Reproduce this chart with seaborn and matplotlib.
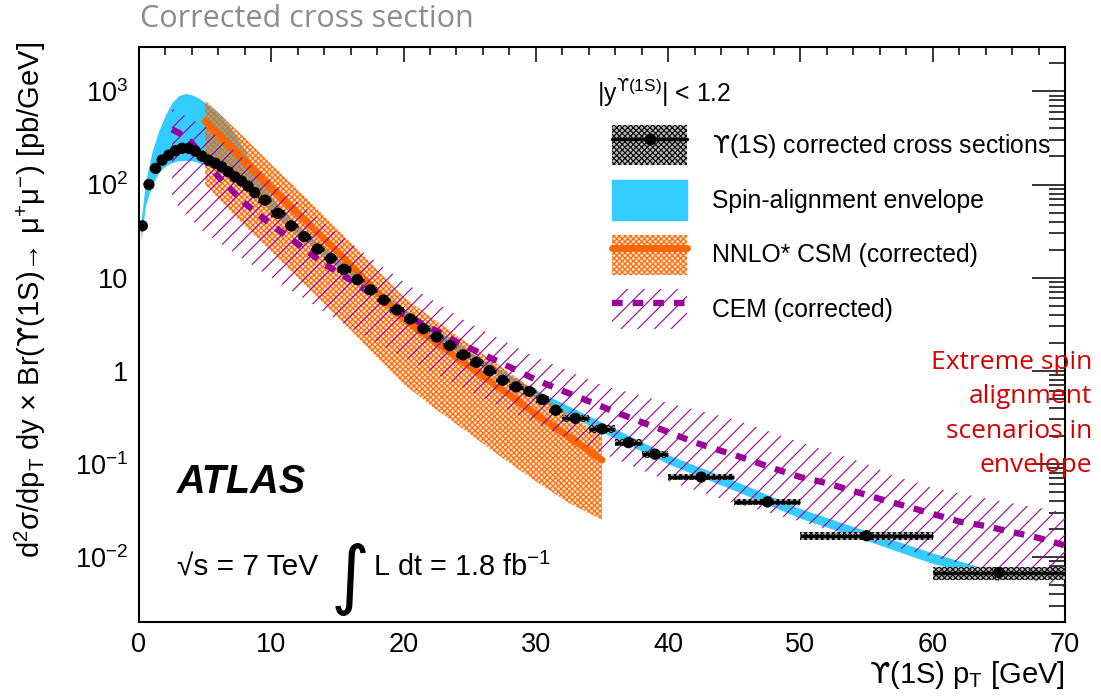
import numpy as np
import pandas as pd
import matplotlib
matplotlib.use("Agg")
import matplotlib.pyplot as plt
import seaborn as sns
from matplotlib.ticker import FixedLocator, MultipleLocator, FuncFormatter, NullFormatter, LogLocator
from matplotlib.patches import Patch
from matplotlib.lines import Line2D
from matplotlib.legend_handler import HandlerTuple

# ---------------- data ----------------
bin_lo = [0.0, 0.5, 1.0, 1.5, 2.0, 2.5, 3.0, 3.5, 4.0, 4.5, 5.0, 5.5, 6.0, 6.5, 7.0, 7.5,
          8.0, 8.5, 9.0, 10, 11, 12, 13, 14, 15, 16, 17, 18, 19, 20, 21, 22, 23, 24, 25,
          26, 27, 28, 29, 30, 31, 32, 34, 36, 38, 40, 45, 50, 60]
bin_hi = [0.5, 1.0, 1.5, 2.0, 2.5, 3.0, 3.5, 4.0, 4.5, 5.0, 5.5, 6.0, 6.5, 7.0, 7.5, 8.0,
          8.5, 9.0, 10, 11, 12, 13, 14, 15, 16, 17, 18, 19, 20, 21, 22, 23, 24, 25, 26,
          27, 28, 29, 30, 31, 32, 34, 36, 38, 40, 45, 50, 60, 70]
xsec = [36, 100, 149, 183, 207, 231, 245, 245, 229, 202, 183, 170, 155, 137, 121, 109,
        96, 82, 68, 49, 36, 27.5, 20.3, 16.1, 12.3, 9.5, 7.4, 5.75, 4.5, 3.6, 2.83,
        2.3, 1.86, 1.48, 1.23, 1.0, 0.79, 0.67, 0.60, 0.49, 0.376, 0.308, 0.237,
        0.169, 0.127, 0.072, 0.039, 0.0169, 0.0068]
sys_rel = [0.08] * 41 + [0.09, 0.09, 0.09, 0.09, 0.07, 0.08, 0.09, 0.16]

env_pt = [0.15, 0.5, 1.0, 1.5, 2.0, 2.5, 3.0, 3.5, 4.0, 4.5, 5.0, 5.5, 6.0, 7.0, 8.0,
          9.0, 10, 12, 14, 16, 18, 20, 25, 30, 35, 40, 45, 50, 55, 60, 65]
env_lo = [25, 60, 100, 135, 158, 172, 180, 182, 180, 172, 162, 150, 138, 112, 88,
          70, 50, 29, 17, 10, 6.2, 3.8, 1.3, 0.50, 0.22, 0.100, 0.052, 0.026, 0.0150,
          0.0085, 0.0055]
env_hi = [40, 110, 230, 380, 560, 760, 900, 950, 920, 850, 760, 670, 590, 400, 230,
          130, 75, 36, 21, 12.5, 7.6, 4.7, 1.6, 0.62, 0.28, 0.125, 0.066, 0.033, 0.0190,
          0.0110, 0.0068]

csm_pt = [5, 7.5, 10, 12.5, 15, 17.5, 20, 22.5, 25, 27.5, 30, 32.5, 35]
csm_val = [480, 210, 91, 42, 19, 8.3, 3.6, 2.0, 1.1, 0.62, 0.34, 0.195, 0.11]
csm_lo = [100, 42, 19, 8.5, 3.8, 1.65, 0.72, 0.38, 0.21, 0.115, 0.065, 0.038, 0.025]
csm_hi = [800, 370, 165, 75, 33, 14.5, 6.2, 3.4, 1.9, 1.07, 0.60, 0.34, 0.20]

cem_pt = [2.5, 3, 4, 6, 8, 10, 12, 14, 16, 18, 20, 22, 24, 26, 28, 30, 32, 34, 36, 38,
          40, 42, 44, 46, 48, 50, 52, 54, 56, 58, 60, 62, 64, 66, 68, 70]
cem_val = [390, 360, 280, 121, 63, 37, 23, 14, 9.4, 6.1, 4.05, 2.9, 2.05, 1.5, 1.1,
           0.80, 0.61, 0.47, 0.36, 0.28, 0.22, 0.17, 0.138, 0.112, 0.089, 0.072,
           0.062, 0.051, 0.042, 0.035, 0.029, 0.024, 0.0215, 0.0185, 0.016, 0.0133]
cemb_pt = [2.5, 5, 10, 15, 20, 25, 30, 35, 40, 45, 50, 55, 57, 60, 65, 70]
cem_lo = [68, 30, 10, 3.5, 1.4, 0.6, 0.27, 0.13, 0.065, 0.038, 0.024, 0.015, 0.013,
          0.010, 0.0068, 0.0047]
cem_hi = [650, 420, 110, 30, 9, 3.2, 1.4, 0.70, 0.45, 0.30, 0.17, 0.10, 0.075, 0.055,
          0.040, 0.030]

# ---------------- style ----------------
CYAN = "#33ccff"
ORANGE = "#ff6600"
ORANGE_FILL = (1.0, 0.4, 0.0, 0.22)
PURPLE = "#990099"
RED = "#d40000"

sns.set_theme(style="white")
plt.rcParams["font.family"] = ["Liberation Sans", "DejaVu Sans"]
plt.rcParams["text.color"] = "black"
plt.rcParams["axes.labelcolor"] = "black"
plt.rcParams["xtick.color"] = "black"
plt.rcParams["ytick.color"] = "black"
plt.rcParams["mathtext.fontset"] = "custom"
plt.rcParams["mathtext.rm"] = "Liberation Sans"
plt.rcParams["mathtext.it"] = "Liberation Sans:italic"
plt.rcParams["mathtext.bf"] = "Liberation Sans:bold"
plt.rcParams["mathtext.sf"] = "DejaVu Sans"
plt.rcParams["mathtext.fallback"] = "stixsans"
plt.rcParams["hatch.linewidth"] = 0.8

UPS = r"$\mathsf{ϒ}$"
FS = 17.8      # legend text
FT = 19.5      # tick labels
FA = 21.0      # axis titles

fig = plt.figure(figsize=(11.01, 6.97), dpi=100)
W, H = 1101, 697
L, R, T, B = 139, 1065, 47, 622
ax = fig.add_axes([L / W, 1 - B / H, (R - L) / W, (B - T) / H])
ax.set_facecolor("white")

# spin alignment envelope
ax.fill_between(env_pt, env_lo, env_hi, color=CYAN, lw=0, zorder=1)

# NNLO* CSM band + line
ax.fill_between(csm_pt, csm_lo, csm_hi, facecolor=ORANGE_FILL, edgecolor=ORANGE,
                hatch="xxxxxx", lw=0, zorder=2)
csm_df = pd.DataFrame({"pt": csm_pt, "val": csm_val})
sns.lineplot(data=csm_df, x="pt", y="val", color=ORANGE, lw=5, ax=ax, zorder=3)

# CEM band + dashed line
ax.fill_between(cemb_pt, cem_lo, cem_hi, facecolor="none", edgecolor=PURPLE,
                hatch="//", lw=0, zorder=4)
cem_df = pd.DataFrame({"pt": cem_pt, "val": cem_val})
sns.lineplot(data=cem_df, x="pt", y="val", color=PURPLE, lw=4.5, ax=ax, zorder=5)
ax.lines[-1].set_dashes((1.7, 1.6))

# data
lo = np.array(bin_lo); hi = np.array(bin_hi); y = np.array(xsec); sr = np.array(sys_rel)
ctr = 0.5 * (lo + hi)
ax.bar(ctr, 2 * y * sr, bottom=y * (1 - sr), width=hi - lo, facecolor="#bbbbbb",
       edgecolor="black", hatch="xxxxxx", lw=0, zorder=6)
ax.errorbar(ctr, y, xerr=0.5 * (hi - lo), fmt="none", ecolor="black", elinewidth=2.5,
            capsize=0, zorder=7)
data_df = pd.DataFrame({"pt": ctr, "xsec": y})
sns.scatterplot(data=data_df, x="pt", y="xsec", color="black", s=66, edgecolor="none",
                ax=ax, zorder=8)

# ---------------- axes ----------------
ax.set_yscale("log")
ax.set_xlim(0, 70)
ax.set_ylim(0.002, 3000)
ax.xaxis.set_major_locator(MultipleLocator(10))
ax.xaxis.set_minor_locator(MultipleLocator(2))
ax.yaxis.set_major_locator(FixedLocator([1e-2, 1e-1, 1, 10, 1e2, 1e3]))
ax.yaxis.set_minor_locator(LogLocator(base=10, subs=np.arange(2, 10), numticks=20))
ax.yaxis.set_minor_formatter(NullFormatter())
ylabels = {1e-2: "$10^{-2}$", 1e-1: "$10^{-1}$", 1.0: "1", 10.0: "10",
           1e2: "$10^{2}$", 1e3: "$10^{3}$"}
ax.yaxis.set_major_formatter(FuncFormatter(
    lambda v, p: min(ylabels.items(), key=lambda kv: abs(np.log10(kv[0]) - np.log10(v)))[1]))
ax.tick_params(which="both", direction="in", top=True, right=True, width=1.1,
               labelsize=FT, colors="black")
ax.tick_params(axis="x", which="major", length=10.8, pad=7)
ax.tick_params(axis="x", which="minor", length=5.5)
ax.tick_params(axis="y", which="major", length=23.5, pad=8)
ax.tick_params(axis="y", which="minor", length=11.5)
for s in ax.spines.values():
    s.set_linewidth(1.5)
    s.set_color("black")
    s.set_visible(True)

ax.set_xlabel(UPS + r"(1S) p$_{\mathrm{T}}$ [GeV]", fontsize=FA, loc="right", labelpad=1)
ax.set_ylabel(r"d$^{2}$σ/dp$_{\mathrm{T}}$ dy × Br(" + UPS
              + r"(1S)→ μ$^{+}$μ$^{-}$) [pb/GeV]", fontsize=FA, loc="top")
ax.yaxis.set_label_coords(-0.098, 1.01)

# ---------------- legend ----------------
h1 = (Patch(facecolor="#bbbbbb", edgecolor="black", hatch="xxxxxx", lw=0),
      Line2D([], [], color="black", lw=2.5, marker="o", ms=7.5))
h2 = Patch(facecolor=CYAN, edgecolor=CYAN)
h3 = (Patch(facecolor=ORANGE_FILL, edgecolor=ORANGE, hatch="xxxxxx", lw=0),
      Line2D([], [], color=ORANGE, lw=5))
h4 = (Patch(facecolor="none", edgecolor=PURPLE, hatch="//", lw=0),
      Line2D([], [], color=PURPLE, lw=4.5, dashes=(1.7, 1.6)))
leg = ax.legend([h1, h2, h3, h4],
                [UPS + "(1S) corrected cross sections", "Spin-alignment envelope",
                 "NNLO* CSM (corrected)", "CEM (corrected)"],
                handler_map={tuple: HandlerTuple(ndivide=1, pad=0)},
                loc="upper left", bbox_to_anchor=((612 - L) / (R - L), (B - 125) / (B - T)),
                frameon=False, fontsize=FS, handlelength=3.05, handleheight=2.11,
                labelspacing=0.6, handletextpad=1.0, borderpad=0, borderaxespad=0)


def fx(px):
    return (px - L) / (R - L)


def fy(py):
    return (B - py) / (B - T)


ax.text(fx(597), fy(93), r"|y$^{\mathsf{ϒ}\mathrm{(1S)}}$| < 1.2", fontsize=FS,
        va="center", ha="left", transform=ax.transAxes)

# ---------------- annotations ----------------
ax.text(fx(177), fy(482), "ATLAS", fontsize=28.5, fontweight="bold", fontstyle="italic",
        va="center", ha="left", transform=ax.transAxes)
ax.text(fx(177), fy(568), "√s = 7 TeV", fontsize=21.5, va="center", ha="left",
        transform=ax.transAxes)
ax.text(fx(331), fy(579), "∫", fontsize=54, va="center", ha="left",
        family=["DejaVu Sans"], transform=ax.transAxes)
ax.text(fx(373), fy(567), "L dt = 1.8 fb$^{-1}$", fontsize=20.8, va="center", ha="left",
        transform=ax.transAxes)

fig.text(140 / W, 1 - 19 / H, "Corrected cross section", fontsize=22, color="#8c8c8c",
         va="center", ha="left", family=["Open Sans", "DejaVu Sans"])
fig.text(1092 / W, 1 - 414 / H, "Extreme spin\nalignment\nscenarios in\nenvelope",
         fontsize=19, color=RED, va="center", ha="right", linespacing=1.5,
         family=["Open Sans", "DejaVu Sans"])
fig.text(1065 / W, 1 + 4 / H, "m$_{\\mu\\mu}$ [GeV]", fontsize=11, va="baseline", ha="right")

fig.savefig("out.png", dpi=100)
